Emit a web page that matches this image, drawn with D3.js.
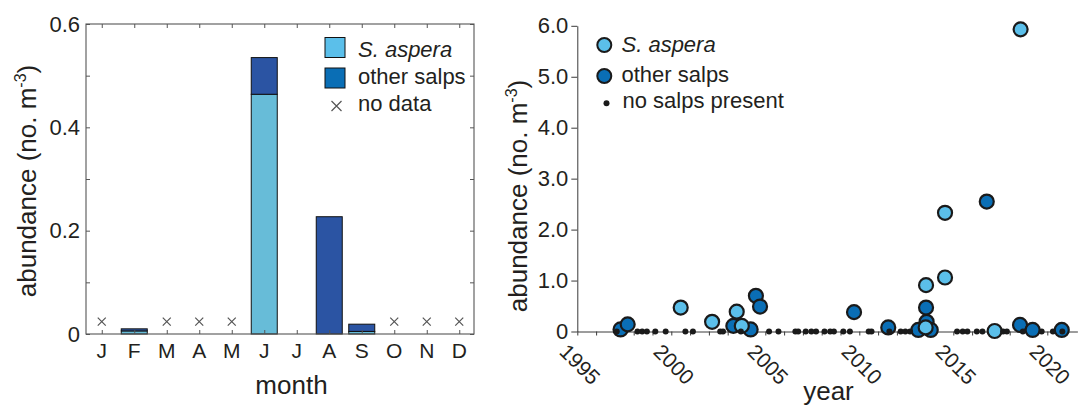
<!DOCTYPE html>
<html><head><meta charset="utf-8">
<script src="https://cdn.jsdelivr.net/npm/d3@7"></script>
<style>
body{margin:0;background:#fff}
svg{display:block}
text{font-family:"Liberation Sans",Arial,Helvetica,sans-serif;fill:#231f20}
</style>
</head><body>
<svg id="c" width="1084" height="405"></svg>
<script>
// ---------- data: left panel (monthly means) ----------
const months = ["J","F","M","A","M","J","J","A","S","O","N","D"];
const asperaMonthly = [null, 0.006, null, null, null, 0.464, 0, 0, 0.005, null, null, null];
const otherMonthly  = [null, 0.004, null, null, null, 0.071, 0, 0.227, 0.014, null, null, null];
const noDataMarkerLevel = 0.024;
const leftYTicks = [0, 0.2, 0.4, 0.6];
const leftYMinor = [0, 0.1, 0.2, 0.3, 0.4, 0.5, 0.6];

// ---------- data: right panel (individual samples) ----------
const asperaYears = [2000.5, 2002.17, 2003.48, 2003.75, 2013.55, 2013.53, 2014.56, 2014.56, 2017.2, 2018.58];
const asperaVals  = [0.47, 0.19, 0.39, 0.11, 0.91, 0.08, 1.06, 2.33, 0.01, 5.93];
const otherYears  = [1997.3, 1997.68, 2003.3, 2004.22, 2004.5, 2004.72, 2009.72, 2011.54, 2013.14, 2013.55, 2013.58, 2013.8, 2016.78, 2018.55, 2019.22, 2020.77];
const otherVals   = [0.04, 0.14, 0.11, 0.04, 0.70, 0.49, 0.38, 0.08, 0.03, 0.47, 0.19, 0.03, 2.55, 0.13, 0.03, 0.03];
const noSalpsYears = [1997.1, 1998.2, 1998.45, 1998.7, 1999.15, 1999.7, 2000.75, 2001.15, 2002.6, 2002.75,
  2003.7, 2005.2, 2005.7, 2006.6, 2006.75, 2007.15, 2007.45, 2007.7, 2008.15, 2008.45, 2008.65,
  2009.15, 2009.5, 2010.5, 2010.65, 2011.6, 2012.2, 2012.45, 2012.7, 2015.2, 2015.5, 2015.75,
  2016.25, 2016.55, 2017.65, 2017.85, 2018.7, 2019.7, 2020.3, 2020.8];
const rightYTicks = [0, 1, 2, 3, 4, 5, 6];
const rightXTicks = d3.range(1995, 2022);
const rightXLabels = [1995, 2000, 2005, 2010, 2015, 2020];

// ---------- styles ----------
const C = {
  barLight: "#67bcd8", barDark: "#2b54a3",
  light: "#5bbfea", dark: "#0a6eb5",
  frame: "#555", axis: "#3a3a3a", ink: "#231f20", cross: "#555"
};

const svg = d3.select("#c");

// ================= LEFT PANEL =================
const xL = d3.scaleLinear().domain([0.5, 12.5]).range([85.5, 475.5]);
const yL = d3.scaleLinear().domain([0, 0.6]).range([334, 24]);
const L = svg.append("g");

const bw = (xL(1) - xL(0)) * 0.8;
const monthData = months.map((m, i) => ({m, i: i + 1, a: asperaMonthly[i], o: otherMonthly[i]}));

// bars
const sampled = monthData.filter(d => d.a !== null);
L.selectAll("rect.a").data(sampled.filter(d => d.a > 0)).join("rect")
  .attr("x", d => xL(d.i) - bw / 2).attr("width", bw)
  .attr("y", d => yL(d.a)).attr("height", d => yL(0) - yL(d.a))
  .attr("fill", C.barLight).attr("stroke", "#111").attr("stroke-width", 1);
L.selectAll("rect.o").data(sampled.filter(d => d.o > 0)).join("rect")
  .attr("x", d => xL(d.i) - bw / 2).attr("width", bw)
  .attr("y", d => yL(d.a + d.o)).attr("height", d => yL(d.a) - yL(d.a + d.o))
  .attr("fill", C.barDark).attr("stroke", "#111").attr("stroke-width", 1);

// no data crosses
const cs = 4;
const nd = monthData.filter(d => d.a === null);
const crossPath = (cx, cy, s) => `M${cx - s},${cy - s}L${cx + s},${cy + s}M${cx - s},${cy + s}L${cx + s},${cy - s}`;
L.selectAll("path.x").data(nd).join("path")
  .attr("d", d => crossPath(xL(d.i), yL(noDataMarkerLevel), cs))
  .attr("stroke", C.cross).attr("stroke-width", 1.2).attr("fill", "none");

// frame
L.append("rect").attr("x", 86).attr("y", 24).attr("width", 388).attr("height", 310)
  .attr("fill", "none").attr("stroke", C.frame).attr("stroke-width", 1.1);

// inside ticks (left, right, bottom, top)
const tl = L.append("g").attr("transform", "translate(86,0)")
  .call(d3.axisLeft(yL).tickValues(leftYMinor).tickSize(-4).tickFormat(""));
const tr = L.append("g").attr("transform", "translate(474,0)")
  .call(d3.axisRight(yL).tickValues(leftYMinor).tickSize(-4).tickFormat(""));
const tb = L.append("g").attr("transform", "translate(0,334)")
  .call(d3.axisBottom(xL).tickValues(d3.range(1, 13)).tickSize(-4).tickFormat(""));
const tt = L.append("g").attr("transform", "translate(0,24)")
  .call(d3.axisTop(xL).tickValues(d3.range(1, 13)).tickSize(-4).tickFormat(""));
[tl, tr, tb, tt].forEach(g => { g.select(".domain").remove(); g.selectAll("line").attr("stroke", C.frame); });

// y tick labels
const ly = L.append("g").attr("transform", "translate(86,0)")
  .call(d3.axisLeft(yL).tickValues(leftYTicks).tickSize(0).tickPadding(6)
    .tickFormat(d => d === 0 ? "0" : d3.format(".1f")(d)));
ly.select(".domain").remove();
ly.selectAll("text").attr("font-size", 22).attr("font-family", null).style("fill", C.ink);

// month labels
L.selectAll("text.m").data(monthData).join("text")
  .attr("x", d => xL(d.i)).attr("y", 357.5).attr("text-anchor", "middle")
  .attr("font-size", 21).text(d => d.m);

L.append("text").attr("x", 291.5).attr("y", 394).attr("text-anchor", "middle")
  .attr("font-size", 26).text("month");

function yLabel(g, x, y) {
  const t = g.append("text").attr("transform", `translate(${x},${y}) rotate(-90)`)
    .attr("text-anchor", "middle").attr("font-size", 26);
  t.append("tspan").text("abundance (no. m");
  t.append("tspan").attr("font-size", 16).attr("dy", -10).text("-3");
  t.append("tspan").attr("dy", 10).text(")");
}
yLabel(L, 36, 181);

// left legend
const lg = L.append("g");
lg.append("rect").attr("x", 325).attr("y", 37.5).attr("width", 20).attr("height", 20)
  .attr("fill", C.light).attr("stroke", "#111");
lg.append("rect").attr("x", 325).attr("y", 68).attr("width", 20).attr("height", 20)
  .attr("fill", C.dark).attr("stroke", "#111");
lg.append("path").attr("d", crossPath(336.5, 106, 5)).attr("stroke", C.cross).attr("stroke-width", 1.2);
lg.append("text").attr("x", 358).attr("y", 56.5).attr("font-size", 22).attr("font-style", "italic").text("S. aspera");
lg.append("text").attr("x", 358).attr("y", 84).attr("font-size", 22).text("other salps");
lg.append("text").attr("x", 358).attr("y", 111).attr("font-size", 22).text("no data");

// ================= RIGHT PANEL =================
const xR = d3.scaleLinear().domain([1995, 2021.6]).range([577.3, 577.3 + 26.6 * 18.8]);
const yR = d3.scaleLinear().domain([0, 6]).range([331.5, 25.8]);
const R = svg.append("g");

const ax = R.append("g").attr("transform", "translate(0,331.5)")
  .call(d3.axisBottom(xR).tickValues(rightXTicks).tickSize(4).tickSizeOuter(0).tickFormat(""));
ax.selectAll("line,path").attr("stroke", C.axis);
const ay = R.append("g").attr("transform", "translate(577.3,0)")
  .call(d3.axisLeft(yR).tickValues(rightYTicks).tickSize(6).tickSizeOuter(0).tickPadding(3)
    .tickFormat(d => d === 0 ? "0" : d3.format(".1f")(d)));
ay.selectAll("line,path").attr("stroke", C.axis);
ay.selectAll("text").attr("font-size", 22).attr("font-family", null).style("fill", C.ink);

// rotated year labels
R.selectAll("text.yr").data(rightXLabels).join("text")
  .attr("transform", d => `translate(${xR(d) - 19},353) rotate(45)`)
  .attr("font-size", 21).text(d => d);

R.append("text").attr("x", 828.5).attr("y", 400).attr("text-anchor", "middle")
  .attr("font-size", 26).text("year");
yLabel(R, 527, 196);

// points: other salps, then S. aspera, then empty samples on top
const others = otherYears.map((y, i) => ({y, v: otherVals[i]}));
const asps = asperaYears.map((y, i) => ({y, v: asperaVals[i]}));
R.selectAll("circle.o").data(others).join("circle")
  .attr("cx", d => xR(d.y)).attr("cy", d => yR(d.v)).attr("r", 7)
  .attr("fill", C.dark).attr("stroke", "#1a1a1a").attr("stroke-width", 2.2);
R.selectAll("circle.a").data(asps).join("circle")
  .attr("cx", d => xR(d.y)).attr("cy", d => yR(d.v)).attr("r", 7)
  .attr("fill", C.light).attr("stroke", "#1a1a1a").attr("stroke-width", 2.2);
R.selectAll("circle.n").data(noSalpsYears).join("circle")
  .attr("cx", d => xR(d)).attr("cy", yR(0)).attr("r", 3)
  .attr("fill", "#1a1a1a");

// right legend
const rg = R.append("g");
rg.append("circle").attr("cx", 604.3).attr("cy", 45).attr("r", 7)
  .attr("fill", C.light).attr("stroke", "#1a1a1a").attr("stroke-width", 2);
rg.append("circle").attr("cx", 604.3).attr("cy", 76).attr("r", 7)
  .attr("fill", C.dark).attr("stroke", "#1a1a1a").attr("stroke-width", 2);
rg.append("circle").attr("cx", 606.5).attr("cy", 103.3).attr("r", 3).attr("fill", "#1a1a1a");
rg.append("text").attr("x", 621.5).attr("y", 52.3).attr("font-size", 22).attr("font-style", "italic").text("S. aspera");
rg.append("text").attr("x", 621.5).attr("y", 81.5).attr("font-size", 22).text("other salps");
rg.append("text").attr("x", 622.5).attr("y", 108.3).attr("font-size", 22).text("no salps present");
</script>
</body></html>
